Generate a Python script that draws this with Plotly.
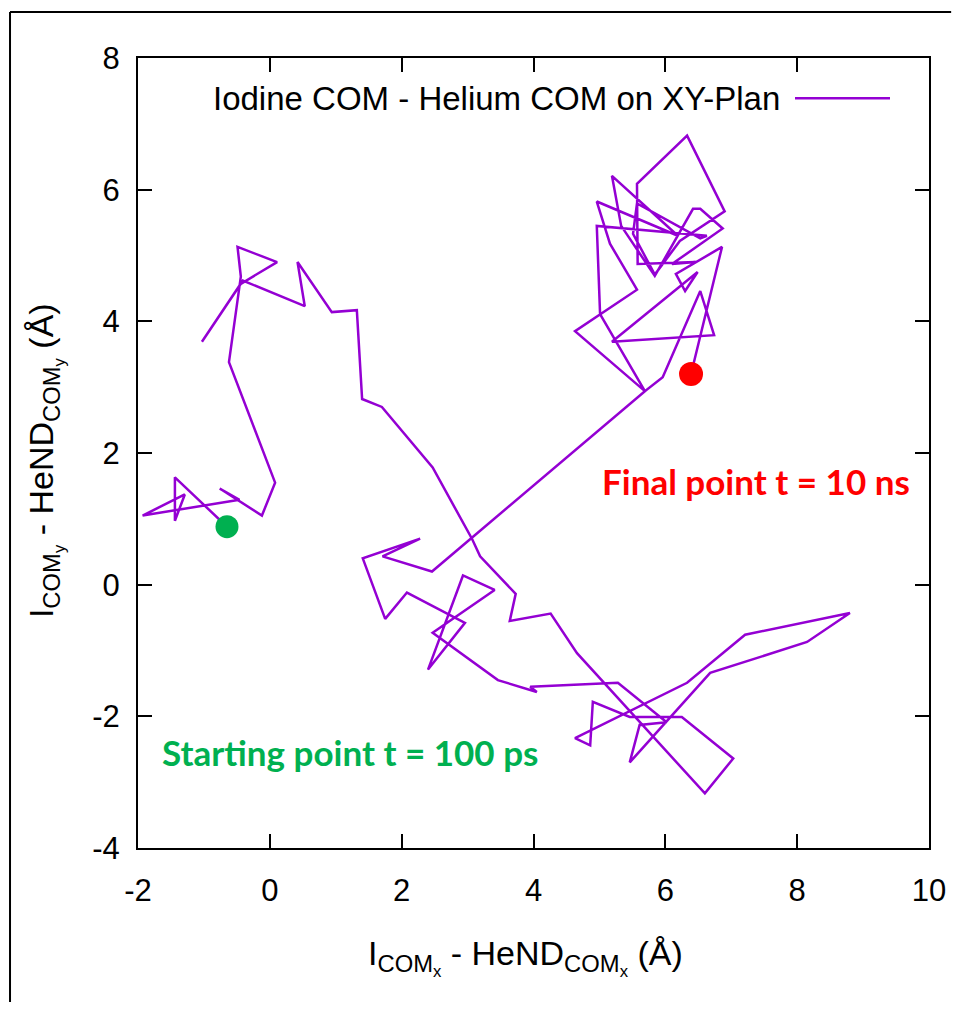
import plotly.graph_objects as go

# Iodine COM - helium droplet COM, projected on the XY plane (Angstrom)
x_path = [-0.65, -1.44, -1.44, -1.29, -1.93, -0.46, -0.76, -0.12, 0.08, -0.62,
          -0.44, -0.49, 0.11, -0.44, -1.03, -0.41, 0.53, 0.42, 0.94, 1.32,
          1.40, 1.70, 2.47, 3.07, 3.19, 3.73, 3.64, 4.26, 4.66, 6.60,
          7.03, 6.25, 5.46, 4.90, 4.86, 4.63, 6.33, 7.21, 8.80, 8.15,
          6.68, 5.46, 5.61, 6.02, 5.28, 3.95, 4.05, 3.46, 2.47, 3.41,
          2.93, 2.40, 2.96, 2.08, 1.75, 1.41, 2.28, 1.71, 2.46, 5.69,
          4.63, 5.57, 5.16, 4.96, 6.19, 5.19, 5.33, 5.84, 6.42, 6.53,
          6.87, 6.10, 6.46, 5.58, 5.57, 6.33, 6.90, 6.22, 5.84, 5.51,
          5.57, 6.53, 6.63, 4.96, 5.01, 5.69, 5.96, 6.53, 6.74, 5.19,
          6.49, 6.30, 6.16, 6.86, 6.39]
y_path = [0.88, 1.63, 0.97, 1.37, 1.05, 1.29, 1.46, 1.05, 1.55, 3.38,
          4.68, 5.13, 4.90, 4.57, 3.69, 4.62, 4.23, 4.90, 4.14, 4.17,
          2.82, 2.70, 1.78, 0.69, 0.43, -0.14, -0.55, -0.44, -1.04, -3.17,
          -2.64, -2.01, -2.01, -1.78, -2.44, -2.33, -1.49, -0.76, -0.43, -0.87,
          -1.34, -2.70, -2.13, -2.09, -1.49, -1.55, -1.63, -1.45, -0.73, -0.08,
          0.14, -1.29, -0.58, -0.12, -0.52, 0.40, 0.70, 0.43, 0.20, 2.94,
          3.85, 4.48, 5.18, 5.82, 5.30, 6.21, 5.45, 4.69, 5.71, 5.71,
          5.41, 4.87, 4.90, 4.87, 6.09, 6.82, 5.67, 5.22, 4.71, 5.33,
          5.79, 5.26, 5.30, 5.45, 4.11, 2.94, 3.15, 4.46, 3.79, 3.69,
          4.75, 4.46, 4.72, 5.13, 3.20]

start_x, start_y = [-0.65], [0.88]   # t = 100 ps
final_x, final_y = [6.39], [3.20]    # t = 10 ns

x_ticks = [-2, 0, 2, 4, 6, 8, 10]
y_ticks = [-4, -2, 0, 2, 4, 6, 8]

PURPLE = "#9400D3"
GREEN = "#00B050"
RED = "#FF0000"
FONT = "Liberation Sans"

fig = go.Figure()

# trajectory
fig.add_trace(go.Scatter(
    x=x_path, y=y_path,
    mode="lines",
    line=dict(color=PURPLE, width=2.5),
    showlegend=False
))

# start / end markers
fig.add_trace(go.Scatter(
    x=start_x, y=start_y,
    mode="markers",
    marker=dict(size=23, color=GREEN),
    showlegend=False
))
fig.add_trace(go.Scatter(
    x=final_x, y=final_y,
    mode="markers",
    marker=dict(size=24, color=RED),
    showlegend=False
))

axis_common = dict(
    showgrid=False,
    zeroline=False,
    showline=True,
    linecolor="black",
    linewidth=2,
    mirror="allticks",
    ticks="inside",
    ticklen=14,
    tickwidth=2,
    tickcolor="black",
    tickfont=dict(family=FONT, size=31, color="black"),
    automargin=False,
    ticklabeloverflow="allow",
)

fig.update_layout(
    # page body adds an 8px margin; keep the figure inside the window
    width=944, height=995,
    margin=dict(l=130, r=23, t=50, b=155),
    paper_bgcolor="white",
    plot_bgcolor="white",
    xaxis=dict(range=[-2, 10], tickvals=x_ticks,
               ticktext=[str(v) for v in x_ticks],
               ticklabelstandoff=14, **axis_common),
    yaxis=dict(range=[-4, 8], tickvals=y_ticks,
               ticktext=[str(v) for v in y_ticks],
               ticklabelstandoff=10, **axis_common),
    showlegend=False,
)

# gnuplot style key: text on the left, line sample on the right
fig.add_annotation(
    xref="paper", yref="paper", x=0.814, y=0.949,
    xanchor="right", yanchor="middle",
    text="Iodine COM - Helium COM on XY-Plan",
    showarrow=False,
    font=dict(family=FONT, size=33, color="black")
)
fig.add_shape(type="line", xref="paper", yref="paper",
              x0=0.8306, x1=0.9507, y0=0.949, y1=0.949,
              line=dict(color=PURPLE, width=2.5))

# point labels
fig.add_annotation(
    x=7.38, y=1.58, text="<b>Final point t = 10 ns</b>",
    showarrow=False, font=dict(family="Lato", size=35, color=RED)
)
fig.add_annotation(
    x=1.21, y=-2.54, text="<b>Starting point t = 100 ps</b>",
    showarrow=False, font=dict(family="Lato", size=35, color=GREEN)
)

# axis titles
fig.add_annotation(
    xref="paper", yref="paper", x=0.49, y=-0.139,
    xanchor="center", yanchor="middle",
    text="I<sub>COM<sub>x</sub></sub> - HeND<sub>COM<sub>x</sub></sub> (Å)",
    showarrow=False, font=dict(family=FONT, size=34, color="black")
)
fig.add_annotation(
    xref="paper", yref="paper", x=-0.1176, y=0.491,
    xanchor="center", yanchor="middle", textangle=-90,
    text="I<sub>COM<sub>y</sub></sub> - HeND<sub>COM<sub>y</sub></sub> (Å)",
    showarrow=False, font=dict(family=FONT, size=34, color="black")
)

# outer frame of the picture: only its left and top edges are in view,
# kept inside the page so it does not cause scrolling
fig.add_shape(type="line", xref="paper", yref="paper",
              x0=-0.1618, x1=-0.1618, y0=-0.195, y1=1.0582,
              line=dict(color="black", width=2))
fig.add_shape(type="line", xref="paper", yref="paper",
              x0=-0.1618, x1=1.028, y0=1.0582, y1=1.0582,
              line=dict(color="black", width=2))

fig.write_html("out.html")
